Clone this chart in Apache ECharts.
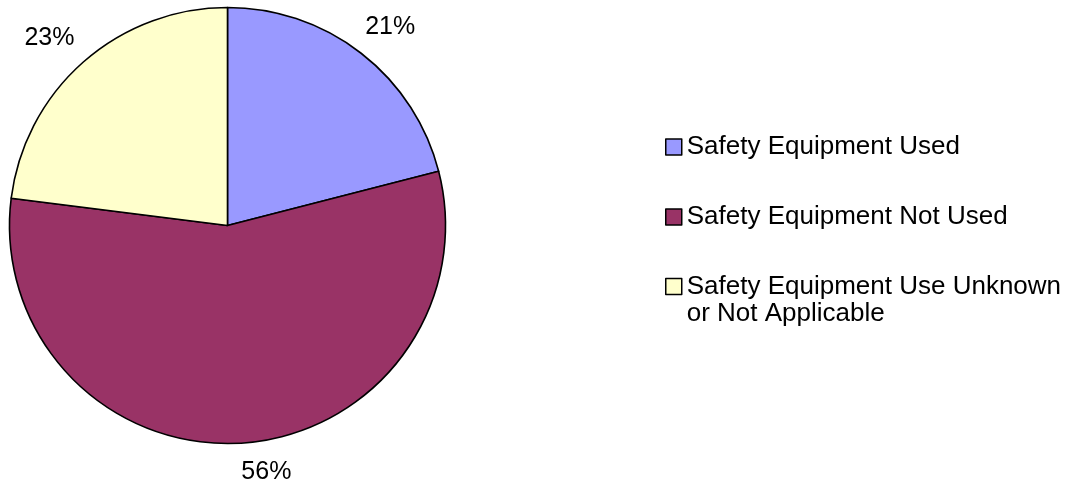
<!DOCTYPE html>
<html>
<head>
<meta charset="utf-8">
<script src="https://cdn.jsdelivr.net/npm/echarts@6/dist/echarts.min.js"></script>
<style>html,body{margin:0;padding:0;background:#fff;}#c{width:1074px;height:487px;}</style>
</head>
<body>
<div id="c"></div>
<script>
var categories = ['Safety Equipment Used', 'Safety Equipment Not Used', 'Safety Equipment Use Unknown\nor Not Applicable'];
var values = [21, 56, 23];
var colors = ['#9999FF', '#993366', '#FFFFCC'];
// small label nudges (style only) to mimic the original label placement
var labelNudge = [[-12, -12], [-6, 11], [8, -10]];

var chart = echarts.init(document.getElementById('c'));
var font = '"Liberation Sans", Arial, sans-serif';
var legendText = {fontFamily: font, fontSize: 26, color: '#000', lineHeight: 27};
chart.setOption({
  animation: false,
  backgroundColor: '#fff',
  legend: [{
    orient: 'vertical', left: 665, top: 133.5, padding: 0,
    itemWidth: 16, itemHeight: 16, itemGap: 43,
    icon: 'rect',
    itemStyle: {borderColor: '#000', borderWidth: 1.5},
    textStyle: legendText,
    data: [categories[0], categories[1]]
  }, {
    orient: 'vertical', left: 665, top: 246, padding: 0,
    itemWidth: 16, itemHeight: 16,
    icon: 'rect',
    itemStyle: {borderColor: '#000', borderWidth: 1.5},
    textStyle: legendText,
    formatter: function (n) { return '\n' + n; },
    data: [categories[2]]
  }],
  series: [{
    type: 'pie',
    center: [227.5, 225.5],
    radius: 218,
    startAngle: 90,
    clockwise: true,
    avoidLabelOverlap: false,
    itemStyle: {borderColor: '#000', borderWidth: 1.6},
    label: {
      show: true, position: 'outside',
      formatter: '{d}%',
      fontFamily: font, fontSize: 25, color: '#000'
    },
    labelLine: {show: false, length: 18, length2: 0},
    labelLayout: function (p) {
      var n = labelNudge[p.dataIndex];
      return {dx: n[0], dy: n[1]};
    },
    emphasis: {disabled: true},
    data: categories.map(function (n, i) {
      return {name: n, value: values[i], itemStyle: {color: colors[i]}};
    })
  }]
});
</script>
</body>
</html>
